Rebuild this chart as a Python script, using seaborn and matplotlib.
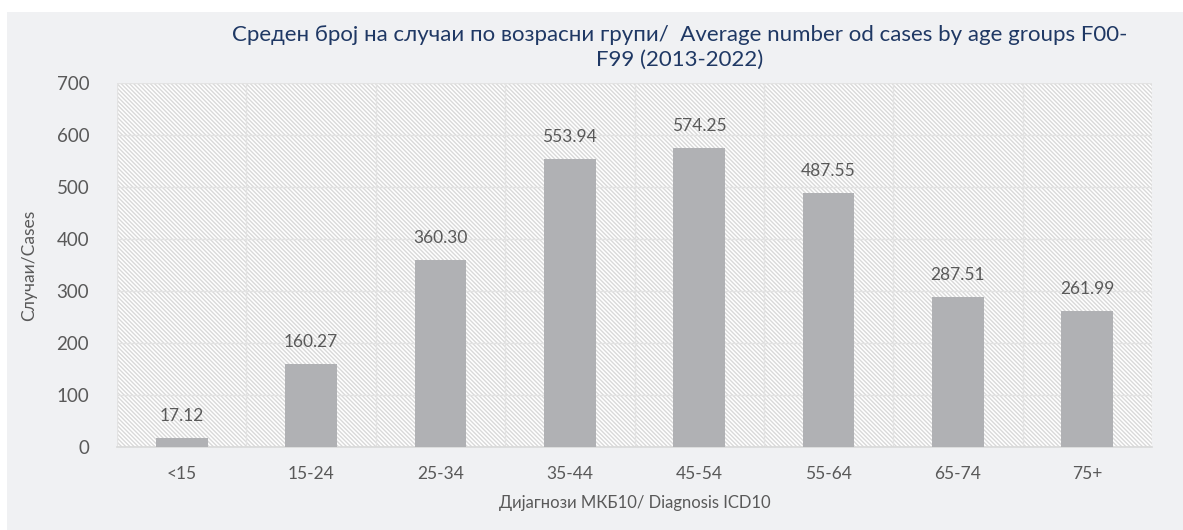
import matplotlib.pyplot as plt
import matplotlib.patches as mpatches
import pandas as pd
import seaborn as sns

AGE_GROUPS = ["<15", "15-24", "25-34", "35-44", "45-54", "55-64", "65-74", "75+"]
AVG_CASES = [17.12, 160.27, 360.30, 553.94, 574.25, 487.55, 287.51, 261.99]
Y_TICKS = [0, 100, 200, 300, 400, 500, 600, 700]

TITLE = ("Среден број на случаи по возрасни групи/  Average number od cases by age groups F00-\n"
         "F99 (2013-2022)")
X_LABEL = "Дијагнози МКБ10/ Diagnosis ICD10"
Y_LABEL = "Случаи/Cases"

PANEL = "#f0f1f3"
BAR = "#b0b1b4"
TXT = "#595959"
GRID = "#e3e3e3"
HATCH = "#d9d9d9"

sns.set_theme(style="white")
plt.rcParams["font.family"] = ["Lato", "DejaVu Sans"]
plt.rcParams["hatch.linewidth"] = 1.0
plt.rcParams["hatch.color"] = HATCH

df = pd.DataFrame({"age": AGE_GROUPS, "cases": AVG_CASES})

fig = plt.figure(figsize=(11.83, 5.30), dpi=100, facecolor="white")
fig.patches.append(mpatches.Rectangle((7 / 1183, 0), 1 - 7 / 1183, 518 / 530,
                                      transform=fig.transFigure, facecolor=PANEL,
                                      edgecolor="none", zorder=-10))

ax = fig.add_axes([117 / 1183, 1 - 447 / 530, 1035 / 1183, 364 / 530])
ax.set_facecolor("white")
# diagonal hatched plot-area background
ax.add_patch(mpatches.Rectangle((0, 0), 1, 1, transform=ax.transAxes, facecolor="white",
                                edgecolor=HATCH, hatch="\\" * 8, linewidth=0, zorder=0))

sns.barplot(data=df, x="age", y="cases", color=BAR, width=0.4, saturation=1,
            edgecolor="none", ax=ax, zorder=3)

for i, v in enumerate(AVG_CASES):
    ax.text(i, v + 27, f"{v:.2f}", ha="center", va="bottom", fontsize=12.5, color=TXT, zorder=4)

ax.set_ylim(0, 700)
ax.set_xlim(-0.5, len(AGE_GROUPS) - 0.5)
ax.set_yticks(Y_TICKS)
ax.set_xticks([i + 0.5 for i in range(-1, len(AGE_GROUPS))], minor=True)
ax.grid(True, axis="y", which="major", color=GRID, linewidth=1, zorder=1)
ax.grid(True, axis="x", which="minor", color=GRID, linewidth=1, zorder=1)
ax.grid(False, axis="x", which="major")
ax.set_axisbelow(True)

for side in ["top", "right", "left"]:
    ax.spines[side].set_visible(False)
ax.spines["bottom"].set_color("#d9d9d9")
ax.spines["bottom"].set_linewidth(1.2)

ax.tick_params(axis="both", which="both", length=0, colors=TXT)
ax.tick_params(axis="x", labelsize=12.5, pad=14)
ax.tick_params(axis="y", labelsize=13.5, pad=20)

ax.set_xlabel(X_LABEL, fontsize=12, color=TXT, labelpad=9)
ax.set_ylabel(Y_LABEL, fontsize=12.5, color=TXT, labelpad=14)

fig.text(680 / 1183, 1 - 47 / 530, TITLE, ha="center", va="center", fontsize=16,
         color="#1f3864", linespacing=1.3)

fig.savefig("out.png", dpi=100, facecolor="white")
